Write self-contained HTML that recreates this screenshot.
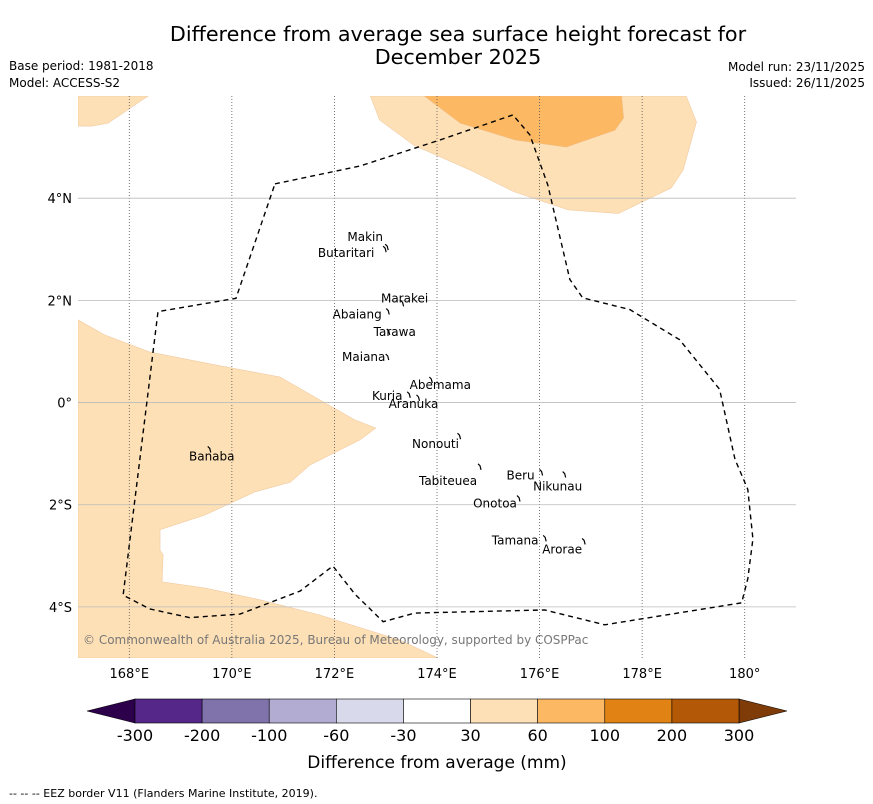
<!DOCTYPE html>
<html><head><meta charset="utf-8">
<style>
body{margin:0;background:#fff;width:873px;height:804px;overflow:hidden;font-family:"DejaVu Sans","Liberation Sans",sans-serif;}
svg{display:block}
</style></head>
<body>
<svg id="chart" width="873" height="804" xmlns="http://www.w3.org/2000/svg" font-family="DejaVu Sans, Liberation Sans, sans-serif">
<text x="458" y="41" font-size="20.7" text-anchor="middle" fill="#000">Difference from average sea surface height forecast for</text>
<text x="458" y="64" font-size="20.7" text-anchor="middle" fill="#000">December 2025</text>
<text x="9" y="70" font-size="12">Base period: 1981-2018</text>
<text x="9" y="87" font-size="12">Model: ACCESS-S2</text>
<text x="865" y="71" font-size="12" text-anchor="end">Model run: 23/11/2025</text>
<text x="865" y="87" font-size="12" text-anchor="end">Issued: 26/11/2025</text>
<g id="map"></g>
<g id="cbar"></g>
<text x="437" y="768" font-size="17" text-anchor="middle">Difference from average (mm)</text>
<text x="9" y="797" font-size="11">--  --  -- EEZ border V11 (Flanders Marine Institute, 2019).</text>
</svg>
<script>
const lonTicks=[168,170,172,174,176,178,180];
const lonLabels=["168°E","170°E","172°E","174°E","176°E","178°E","180°"];
const latTicks=[4,2,0,-2,-4];
const latLabels=["4°N","2°N","0°","2°S","4°S"];
const cbLevels=["-300","-200","-100","-60","-30","30","60","100","200","300"];
const cbColors=["#542788","#8073ac","#b2abd2","#d8daeb","#ffffff","#fee0b6","#fdb863","#e08214","#b35806"];
const eezLon=[170.84,172.5,174.06,175.48,175.81,176.16,176.59,176.84,177.76,178.73,179.51,179.81,180.06,180.16,180.06,179.94,177.27,176.1,173.57,172.95,172.4,171.97,171.33,170.16,169.18,168.4,167.88,168.56,170.08,170.84];
const eezLat=[4.28,4.63,5.14,5.63,5.24,4.26,2.41,2.05,1.82,1.23,0.26,-1.11,-1.7,-2.67,-3.45,-3.92,-4.35,-4.06,-4.12,-4.29,-3.75,-3.2,-3.69,-4.14,-4.21,-4.04,-3.77,1.78,2.04,4.28];
const lightNELon=[172.7,172.88,173.54,174.71,175.49,176.56,177.54,178.57,178.8,179.06,178.86];
const lightNELat=[6,5.53,5.04,4.52,4.13,3.77,3.7,4.2,4.55,5.49,6];
const darkNELon=[173.75,174.45,175.52,176.52,177.47,177.64,177.6];
const darkNELat=[6,5.47,5.14,5,5.33,5.57,6];
const lightNWLon=[167,168.37,167.59,167.27,167];
const lightNWLat=[6,6,5.47,5.41,5.41];
const lightWLon=[167,167.53,168.4,169.77,170.94,171.72,172.4,172.81,172.5,171.53,171.14,170.45,169.48,168.6,168.6,168.66,168.64,169.48,170.55,171.72,173.28,174.02,167];
const lightWLat=[1.62,1.32,0.99,0.72,0.5,0.05,-0.34,-0.5,-0.73,-1.22,-1.56,-1.75,-2.2,-2.49,-2.89,-2.98,-3.51,-3.63,-3.86,-4.16,-4.65,-5.0,-5.0];
const islandNames=["Makin","Butaritari","Marakei","Abaiang","Tarawa","Maiana","Abemama","Kuria","Aranuka","Banaba","Nonouti","Beru","Nikunau","Tabiteuea","Onotoa","Tamana","Arorae"];
const islandLon=[172.99,172.95,173.29,173.01,173.02,173.0,173.85,173.42,173.6,169.53,174.4,176.0,176.45,174.8,175.56,176.07,176.83];
const islandLat=[3.1,3.06,2.0,1.84,1.44,0.95,0.5,0.21,0.15,-0.86,-0.6,-1.31,-1.35,-1.2,-1.82,-2.6,-2.66];
const labelDx=[-20,-37,4,-29,8,-22,11,-20,-3,4,-22,-19,-5,-30,-22,-28,-20];
const labelDy=[-3,11,2,10,7,7,12,8,13,14,15,10,19,21,12,9,15];

const L=78,R=796,T=96,B=658,lon0=167,lon1=181,lat0=6,lat1=-5;
const x=lon=>L+(lon-lon0)/(lon1-lon0)*(R-L);
const y=lat=>T+(lat0-lat)/(lat0-lat1)*(B-T);
const NS="http://www.w3.org/2000/svg";
const map=document.getElementById('map');
function mk(tag,attrs,parent){const e=document.createElementNS(NS,tag);for(const k in attrs)e.setAttribute(k,attrs[k]);parent.appendChild(e);return e;}
const cp=mk('clipPath',{id:'clip'},map);mk('rect',{x:L,y:T,width:R-L,height:B-T},cp);
const g=mk('g',{'clip-path':'url(#clip)'},map);
function poly(lons,lats,fill,name){
  const p=mk('polygon',{points:lons.map((v,i)=>x(v)+','+y(lats[i])).join(' '),fill:fill,stroke:'#e9b98a','stroke-width':0.4},g);
  
  
}
poly(lightNELon,lightNELat,'#fee0b6','anomaly-30-60-north');
poly(darkNELon,darkNELat,'#fdb863','anomaly-60-100-north');
poly(lightNWLon,lightNWLat,'#fee0b6','anomaly-30-60-northwest');
poly(lightWLon,lightWLat,'#fee0b6','anomaly-30-60-west');
lonTicks.forEach((v,i)=>{
  const l=mk('line',{x1:x(v),x2:x(v),y1:T,y2:B,stroke:'#555','stroke-width':0.8,'stroke-dasharray':'1,2'},g);
  
  
  const t=mk('text',{x:x(v),y:B+20,'font-size':13,'text-anchor':'middle'},map);t.textContent=lonLabels[i];
  
  
});
latTicks.forEach((v,i)=>{
  const l=mk('line',{x1:L,x2:R,y1:y(v),y2:y(v),stroke:'#bbb','stroke-width':0.8},g);
  
  
  const t=mk('text',{x:L-6,y:y(v)+5,'font-size':13,'text-anchor':'end'},map);t.textContent=latLabels[i];
  
  
});
const eez=mk('polyline',{points:eezLon.map((v,i)=>x(v)+','+y(eezLat[i])).join(' '),fill:'none',stroke:'#000','stroke-width':1.4,'stroke-dasharray':'5,4'},g);


islandNames.forEach((n,i)=>{
  const px=x(islandLon[i]),py=y(islandLat[i]);
  const s=mk('path',{d:`M${px} ${py} l2 2 l1 4`,stroke:'#000','stroke-width':1.2,fill:'none'},g);
  
  
  const t=mk('text',{x:px+labelDx[i],y:py+labelDy[i],'font-size':12,fill:'#000','text-anchor':'middle'},g);t.textContent=n;
  
  
});
const cr=mk('text',{x:83,y:644,'font-size':12,fill:'#777'},g);cr.textContent='© Commonwealth of Australia 2025, Bureau of Meteorology, supported by COSPPac';



const cb=document.getElementById('cbar');
const cx0=135,cx1=739,cy=699,ch=24,bw=(cx1-cx0)/cbColors.length;
const lt=mk('polygon',{points:`${cx0},${cy} ${cx0},${cy+ch} 87,${cy+ch/2}`,fill:'#2d004b',stroke:'#000','stroke-width':0.6},cb);


const rt=mk('polygon',{points:`${cx1},${cy} ${cx1},${cy+ch} 787,${cy+ch/2}`,fill:'#7f3b08',stroke:'#000','stroke-width':0.6},cb);


cbColors.forEach((c,i)=>{
  const r=mk('rect',{x:cx0+i*bw,y:cy,width:bw,height:ch,fill:c,stroke:'#000','stroke-width':0.6},cb);
  
  
});
cbLevels.forEach((v,i)=>{
  const t=mk('text',{x:cx0+i*bw,y:cy+ch+18,'font-size':16,'text-anchor':'middle'},cb);t.textContent=v;
  
  
});
</script>
</body></html>
